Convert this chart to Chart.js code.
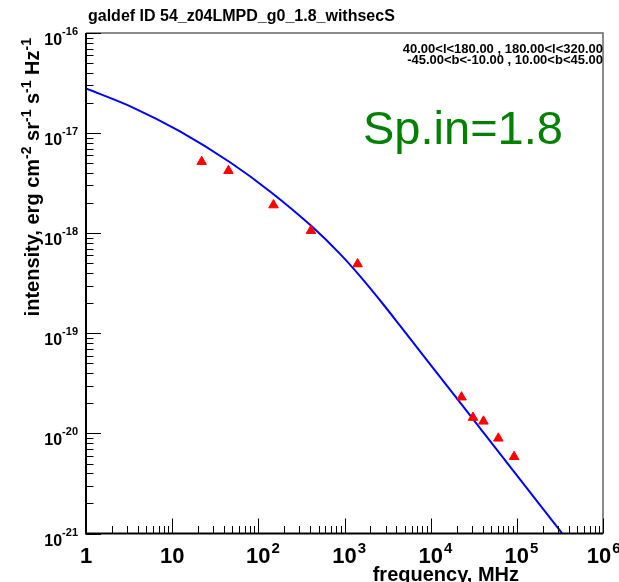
<!DOCTYPE html>
<html>
<head>
<meta charset="utf-8">
<title>galdef ID 54_z04LMPD_g0_1.8_withsecS</title>
<script src="https://cdn.jsdelivr.net/npm/chart.js@4/dist/chart.umd.min.js"></script>
<style>
	html, body { margin: 0; padding: 0; background: #fff; }
	#chart { display: block; }
</style>
</head>
<body>
<canvas id="chart" width="619" height="582"></canvas>
<script>
// measured intensities (MHz, erg cm^-2 sr^-1 s^-1 Hz^-1)
var dataFreq = [ 22, 45, 150, 408, 1420, 22800, 31000, 41000, 61000, 93000 ];
var dataIntensity = [ 5.18e-18, 4.21e-18, 1.91e-18, 1.06e-18, 4.92e-19, 2.30e-20, 1.44e-20, 1.32e-20, 8.93e-21, 5.85e-21 ];

// model spectrum
var modelFreq = [ 1, 3.51, 12.33, 46.9, 140.3, 419.5, 886.6, 1513, 2797, 4406, 12830, 37370, 334200 ];
var modelIntensity = [ 2.79e-17, 1.80e-17, 1.04e-17, 5.11e-18, 2.57e-18, 1.164e-18, 6.21e-19, 3.727e-19, 1.962e-19, 1.193e-19, 3.675e-20, 1.13e-20, 1.01e-21 ];

// decade tick labels
var xTickExponents = [ 0, 1, 2, 3, 4, 5, 6 ];
var yTickExponents = [ -16, -17, -18, -19, -20, -21 ];

var titleText = 'galdef ID 54_z04LMPD_g0_1.8_withsecS';
var regionLines = [ '40.00<l<180.00 , 180.00<l<320.00', '-45.00<b<-10.00 , 10.00<b<45.00' ];
var indexText = 'Sp.in=1.8';
var xTitle = 'frequency, MHz';
var yTitleParts = [ [ 'intensity, erg cm', '-2' ], [ ' sr', '-1' ], [ ' s', '-1' ], [ ' Hz', '-1' ] ];

( function() {

	var FONT = "'Liberation Sans', Arial, Helvetica, sans-serif";

	function toPoints( xs, ys ) {
		return xs.map( function( x, i ) {
			return { x: x, y: ys[i] };
		} );
	}

	/**
	 * Frame and log ticks, ROOT style (ticks point inward).
	 */
	function drawAxes( chart ) {
		var ctx = chart.ctx;
		var a = chart.chartArea;
		var xs = chart.scales.x;
		var ys = chart.scales.y;
		var d, k, p, len;

		ctx.save();

		// top / right frame
		ctx.strokeStyle = '#666';
		ctx.lineWidth = 1.5;
		ctx.beginPath();
		ctx.moveTo( a.left, a.top );
		ctx.lineTo( a.right, a.top );
		ctx.lineTo( a.right, a.bottom );
		ctx.stroke();

		ctx.strokeStyle = '#000';
		ctx.lineWidth = 1;
		ctx.beginPath();

		// x ticks
		for ( d = 0; d <= 6; d++ ) {
			for ( k = 1; k <= 9; k++ ) {
				if ( d === 6 && k > 1 )
					break;
				p = Math.round( xs.getPixelForValue( k * Math.pow( 10, d ) ) ) + 0.5;
				len = k === 1 ? 15 : 7.5;
				ctx.moveTo( p, a.bottom );
				ctx.lineTo( p, a.bottom - len );
			}
		}

		// y ticks
		for ( d = -21; d <= -16; d++ ) {
			for ( k = 1; k <= 9; k++ ) {
				if ( d === -16 && k > 1 )
					break;
				p = Math.round( ys.getPixelForValue( k * Math.pow( 10, d ) ) ) + 0.5;
				len = k === 1 ? 15 : 7.5;
				ctx.moveTo( a.left, p );
				ctx.lineTo( a.left + len, p );
			}
		}
		ctx.stroke();

		// left / bottom axis lines
		ctx.lineWidth = 2;
		ctx.beginPath();
		ctx.moveTo( a.left, a.top );
		ctx.lineTo( a.left, a.bottom );
		ctx.lineTo( a.right, a.bottom );
		ctx.stroke();

		ctx.restore();
	}

	/**
	 * Tick labels with superscript exponents.
	 */
	function drawTickLabels( chart ) {
		var ctx = chart.ctx;
		var xs = chart.scales.x;
		var ys = chart.scales.y;

		ctx.save();
		ctx.fillStyle = '#000';
		ctx.textBaseline = 'alphabetic';

		xTickExponents.forEach( function( e ) {
			var p = xs.getPixelForValue( Math.pow( 10, e ) );
			var base = e === 0 ? '1' : '10';

			// last label is nudged left so its exponent stays on the canvas
			if ( e === 6 )
				p -= 4;

			ctx.font = 'bold 22px ' + FONT;
			ctx.textAlign = 'center';
			ctx.fillText( base, p, 563 );

			if ( e > 1 ) {
				var w = ctx.measureText( base ).width;
				ctx.font = 'bold 15px ' + FONT;
				ctx.textAlign = 'left';
				ctx.fillText( String( e ), p + w / 2 + 1, 553 );
			}
		} );

		yTickExponents.forEach( function( e ) {
			var p = ys.getPixelForValue( Math.pow( 10, e ) );
			var right = 78;

			ctx.font = 'bold 11px ' + FONT;
			ctx.textAlign = 'right';
			ctx.fillText( String( e ), right, p + 2 );
			var sw = ctx.measureText( String( e ) ).width;

			ctx.font = 'bold 16px ' + FONT;
			ctx.fillText( '10', right - sw, p + 12 );
		} );

		ctx.restore();
	}

	/**
	 * Title, axis titles and annotations.
	 */
	function drawTexts( chart ) {
		var ctx = chart.ctx;

		ctx.save();
		ctx.fillStyle = '#000';
		ctx.textBaseline = 'alphabetic';

		ctx.font = 'bold 16px ' + FONT;
		ctx.textAlign = 'left';
		ctx.fillText( titleText, 88, 21 );

		ctx.font = 'bold 13px ' + FONT;
		ctx.textAlign = 'right';
		ctx.fillText( regionLines[0], 603, 52.5 );
		ctx.fillText( regionLines[1], 603, 63.5 );

		ctx.font = 'bold 20px ' + FONT;
		ctx.textAlign = 'right';
		ctx.fillText( xTitle, 519, 581 );

		ctx.fillStyle = '#008000';
		ctx.font = '47px ' + FONT;
		ctx.textAlign = 'left';
		ctx.fillText( indexText, 363, 144 );

		// rotated y title, ending near the top of the frame
		ctx.fillStyle = '#000';
		ctx.translate( 39, 38 );
		ctx.rotate( -Math.PI / 2 );
		ctx.textAlign = 'left';

		var total = 0;
		yTitleParts.forEach( function( part ) {
			ctx.font = 'bold 20px ' + FONT;
			total += ctx.measureText( part[0] ).width;
			ctx.font = 'bold 14px ' + FONT;
			total += ctx.measureText( part[1] ).width;
		} );

		var x = -total;
		yTitleParts.forEach( function( part ) {
			ctx.font = 'bold 20px ' + FONT;
			ctx.fillText( part[0], x, 0 );
			x += ctx.measureText( part[0] ).width;
			ctx.font = 'bold 14px ' + FONT;
			ctx.fillText( part[1], x, -8 );
			x += ctx.measureText( part[1] ).width;
		} );

		ctx.restore();
	}

	var rootStyle = {
		id: 'rootStyle',
		afterDraw: function( chart ) {
			drawAxes( chart );
			drawTickLabels( chart );
			drawTexts( chart );
		}
	};

	var config = {
		type: 'scatter',
		data: {
			datasets: [
				{
					label: 'data',
					data: toPoints( dataFreq, dataIntensity ),
					showLine: false,
					pointStyle: 'triangle',
					pointRadius: 5.5,
					pointBackgroundColor: '#ff0000',
					pointBorderColor: '#ff0000',
					pointBorderWidth: 1,
					order: 0
				},
				{
					label: 'model',
					data: toPoints( modelFreq, modelIntensity ),
					showLine: true,
					borderColor: '#0000ff',
					borderWidth: 2,
					pointRadius: 0,
					cubicInterpolationMode: 'monotone',
					fill: false,
					order: 1
				}
			]
		},
		options: {
			responsive: false,
			devicePixelRatio: 1,
			animation: false,
			layout: {
				padding: { left: 86, right: 16, top: 33, bottom: 48.5 }
			},
			plugins: {
				legend: { display: false },
				tooltip: { enabled: false }
			},
			scales: {
				x: {
					type: 'logarithmic',
					min: 1,
					max: 1e6,
					display: false
				},
				y: {
					type: 'logarithmic',
					min: 1e-21,
					max: 1e-16,
					display: false
				}
			}
		},
		plugins: [ rootStyle ]
	};

	window.spectrumChart = new Chart( document.getElementById( 'chart' ).getContext( '2d' ), config );

} )();
</script>
</body>
</html>
